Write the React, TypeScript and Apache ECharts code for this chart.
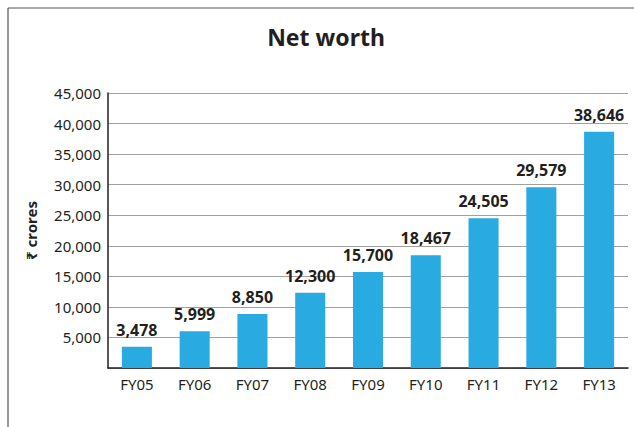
import React, { useEffect, useRef } from "react";
import * as echarts from "echarts";

const categories = ["FY05", "FY06", "FY07", "FY08", "FY09", "FY10", "FY11", "FY12", "FY13"];
const netWorth = [3478, 5999, 8850, 12300, 15700, 18467, 24505, 29579, 38646];
const titleText = "Net worth";
const yAxisName = "₹ crores";

const FONT = "'Noto Sans', 'Open Sans', 'DejaVu Sans', sans-serif";
const TEXT = "#231f20";

export default function App() {
  const ref = useRef<HTMLDivElement>(null);
  useEffect(() => {
    if (!ref.current) return;
    const chart = echarts.init(ref.current, null, { renderer: "svg" });
    chart.setOption({
      animation: false,
      backgroundColor: "#ffffff",
      textStyle: { fontFamily: FONT },
      title: {
        text: titleText,
        left: 321,
        textAlign: "center",
        top: 20,
        textStyle: { fontFamily: FONT, fontSize: 23, fontWeight: "bold", color: TEXT },
      },
      graphic: [
        { type: "line", shape: { x1: 8, y1: 8, x2: 634, y2: 8 }, style: { stroke: "#555", lineWidth: 1.2 } },
        { type: "line", shape: { x1: 8, y1: 8, x2: 8, y2: 427 }, style: { stroke: "#555", lineWidth: 1.2 } },
      ],
      grid: { left: 108, right: 6, top: 93, bottom: 59, containLabel: false },
      xAxis: {
        type: "category",
        data: categories,
        axisLine: { show: true, lineStyle: { color: "#231f20", width: 1.5 } },
        axisTick: { show: false },
        axisLabel: { color: TEXT, fontSize: 15, fontFamily: FONT, margin: 8 },
      },
      yAxis: {
        type: "value",
        min: 0,
        max: 45000,
        interval: 5000,
        name: yAxisName,
        nameLocation: "middle",
        nameRotate: 90,
        nameGap: 70,
        nameTextStyle: { color: TEXT, fontSize: 15, fontWeight: "bold", fontFamily: FONT },
        axisLine: { show: true, lineStyle: { color: "#231f20", width: 1.5 } },
        axisTick: { show: false },
        axisLabel: {
          color: TEXT,
          fontSize: 15,
          fontFamily: FONT,
          margin: 7,
          formatter: (v: number) => (v === 0 ? "" : v.toLocaleString("en-US")),
        },
        splitLine: { show: true, lineStyle: { color: "#a0a0a0", width: 1 } },
      },
      series: [
        {
          type: "bar",
          data: netWorth,
          barWidth: "52%",
          itemStyle: { color: "#29abe2" },
          label: {
            show: true,
            position: "top",
            distance: 9,
            color: TEXT,
            fontSize: 16,
            fontWeight: "bold",
            fontFamily: FONT,
            formatter: (p: any) => Number(p.value).toLocaleString("en-US"),
          },
        },
      ],
    });
    return () => chart.dispose();
  }, []);
  return (
    <div
      ref={ref}
      style={{ position: "absolute", left: 0, top: 0, width: 634, height: 427 }}
    />
  );
}
